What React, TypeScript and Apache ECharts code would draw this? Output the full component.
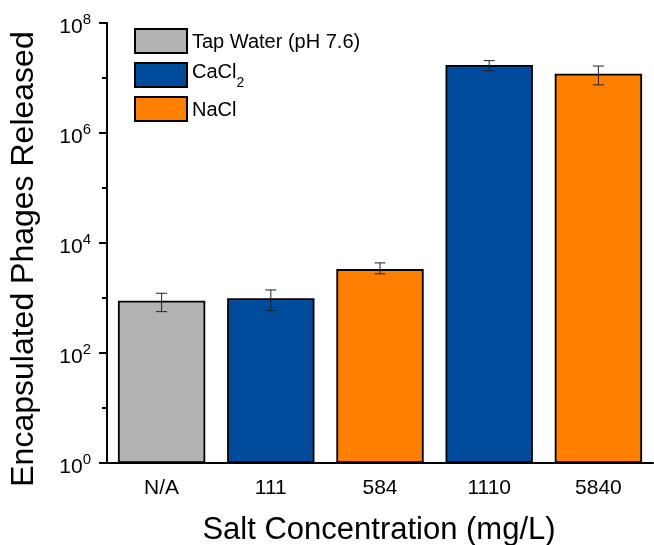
import React, { useEffect, useRef } from "react";
import * as echarts from "echarts";

const categories = ["N/A", "111", "584", "1110", "5840"];
const seriesNames = ["Tap Water (pH 7.6)", "CaCl2", "NaCl"];
const tapValues = [890, null, null, null, null];
const cacl2Values = [null, 990, null, 1.72e7, null];
const naclValues = [null, null, 3350, null, 1.2e7];
const errLow = [565, 590, 2750, 1.36e7, 7.5e6];
const errHigh = [1220, 1400, 4350, 2.07e7, 1.65e7];
const minorTickValues = [10, 1e3, 1e5, 1e7];
const xTitle = "Salt Concentration (mg/L)";
const yTitle = "Encapsulated Phages Released";

const FONT = "'Liberation Sans', Arial, Helvetica, sans-serif";
const colors = ["#b3b3b3", "#004c9c", "#ff8000"];

export default function App() {
  const ref = useRef<HTMLDivElement>(null);
  useEffect(() => {
    if (!ref.current) return;
    const chart = echarts.init(ref.current, null, { renderer: "svg" });
    const barSeries = [tapValues, cacl2Values, naclValues].map((vals, i) => ({
      name: seriesNames[i],
      type: "bar",
      data: vals,
      barWidth: "80%",
      barGap: "-100%",
      itemStyle: { color: colors[i], borderColor: "#000", borderWidth: 1.8 },
      z: 2,
    }));
    chart.setOption({
      animation: false,
      textStyle: { fontFamily: FONT },
      grid: { left: 107, right: 1, top: 23, bottom: 82 },
      legend: {
        orient: "vertical",
        left: 134,
        top: 28,
        padding: 0,
        itemWidth: 52,
        itemHeight: 24,
        itemGap: 7,
        icon: "rect",
        data: seriesNames,
        formatter: (name: string) => (name === "CaCl2" ? "{m|CaCl}{s|2}" : "{n|" + name + "}"),
        textStyle: {
          fontFamily: FONT,
          fontSize: 20,
          color: "#000",
          rich: {
            n: { fontFamily: FONT, fontSize: 20, color: "#000" },
            m: { fontFamily: FONT, fontSize: 20, color: "#000", padding: [0, 0, 8, 0], verticalAlign: "bottom" },
            s: { fontFamily: FONT, fontSize: 14, color: "#000", verticalAlign: "bottom" },
          },
        },
      },
      xAxis: [
        {
          type: "category",
          data: categories,
          boundaryGap: true,
          axisLine: { lineStyle: { color: "#000", width: 2 } },
          axisTick: { alignWithLabel: true, length: 8, lineStyle: { color: "#000", width: 2 } },
          axisLabel: { color: "#000", fontSize: 21, fontFamily: FONT, margin: 13 },
        },
        {
          type: "category",
          data: categories,
          position: "bottom",
          boundaryGap: true,
          axisLine: { show: false },
          axisTick: { alignWithLabel: false, length: 5, lineStyle: { color: "#000", width: 2 } },
          axisLabel: { show: false },
        },
      ],
      yAxis: {
        type: "log",
        logBase: 100,
        min: 1,
        max: 1e8,
        axisLine: { show: true, lineStyle: { color: "#000", width: 2 } },
        axisTick: { show: true, length: 8, lineStyle: { color: "#000", width: 2 } },
        splitLine: { show: false },
        axisLabel: {
          margin: 16,
          formatter: (v: number) => "{b|10}{p|" + Math.round(Math.log10(v)) + "}",
          rich: {
            b: { fontFamily: FONT, fontSize: 21, color: "#000", verticalAlign: "bottom" },
            p: { fontFamily: FONT, fontSize: 15, color: "#000", padding: [0, 0, 10, 0], verticalAlign: "bottom" },
          },
        },
      },
      graphic: [
        {
          type: "text",
          x: 379,
          y: 528,
          style: { text: xTitle, fontFamily: FONT, fontSize: 31, fill: "#000", textAlign: "center", textVerticalAlign: "middle" },
        },
        {
          type: "text",
          x: 22,
          y: 259,
          rotation: Math.PI / 2,
          style: { text: yTitle, fontFamily: FONT, fontSize: 32, fill: "#000", textAlign: "center", textVerticalAlign: "middle" },
        },
      ],
      series: [
        ...barSeries,
        {
          type: "custom",
          name: "minorTicks",
          silent: true,
          clip: false,
          z: 6,
          data: minorTickValues.map((v) => [0, v]),
          encode: { x: 0, y: 1 },
          renderItem: (params: any, api: any) => {
            const p = api.coord([0, api.value(1)]);
            const left = params.coordSys.x;
            return {
              type: "line",
              shape: { x1: left - 5, y1: p[1], x2: left, y2: p[1] },
              style: { stroke: "#000", lineWidth: 2 },
            };
          },
        },
        {
          type: "custom",
          name: "error",
          z: 5,
          data: categories.map((_, i) => [i, errLow[i], errHigh[i]]),
          encode: { x: 0, y: [1, 2] },
          renderItem: (params: any, api: any) => {
            const x = api.value(0);
            const lo = api.coord([x, api.value(1)]);
            const hi = api.coord([x, api.value(2)]);
            const h = 5.5;
            const style = { stroke: "#222", lineWidth: 1 };
            return {
              type: "group",
              children: [
                { type: "line", shape: { x1: hi[0], y1: hi[1], x2: lo[0], y2: lo[1] }, style },
                { type: "line", shape: { x1: hi[0] - h, y1: hi[1], x2: hi[0] + h, y2: hi[1] }, style },
                { type: "line", shape: { x1: lo[0] - h, y1: lo[1], x2: lo[0] + h, y2: lo[1] }, style },
              ],
            };
          },
        },
      ],
    });
    return () => chart.dispose();
  }, []);
  return <div ref={ref} style={{ position: "fixed", left: 0, top: 0, width: 654, height: 545 }} />;
}
